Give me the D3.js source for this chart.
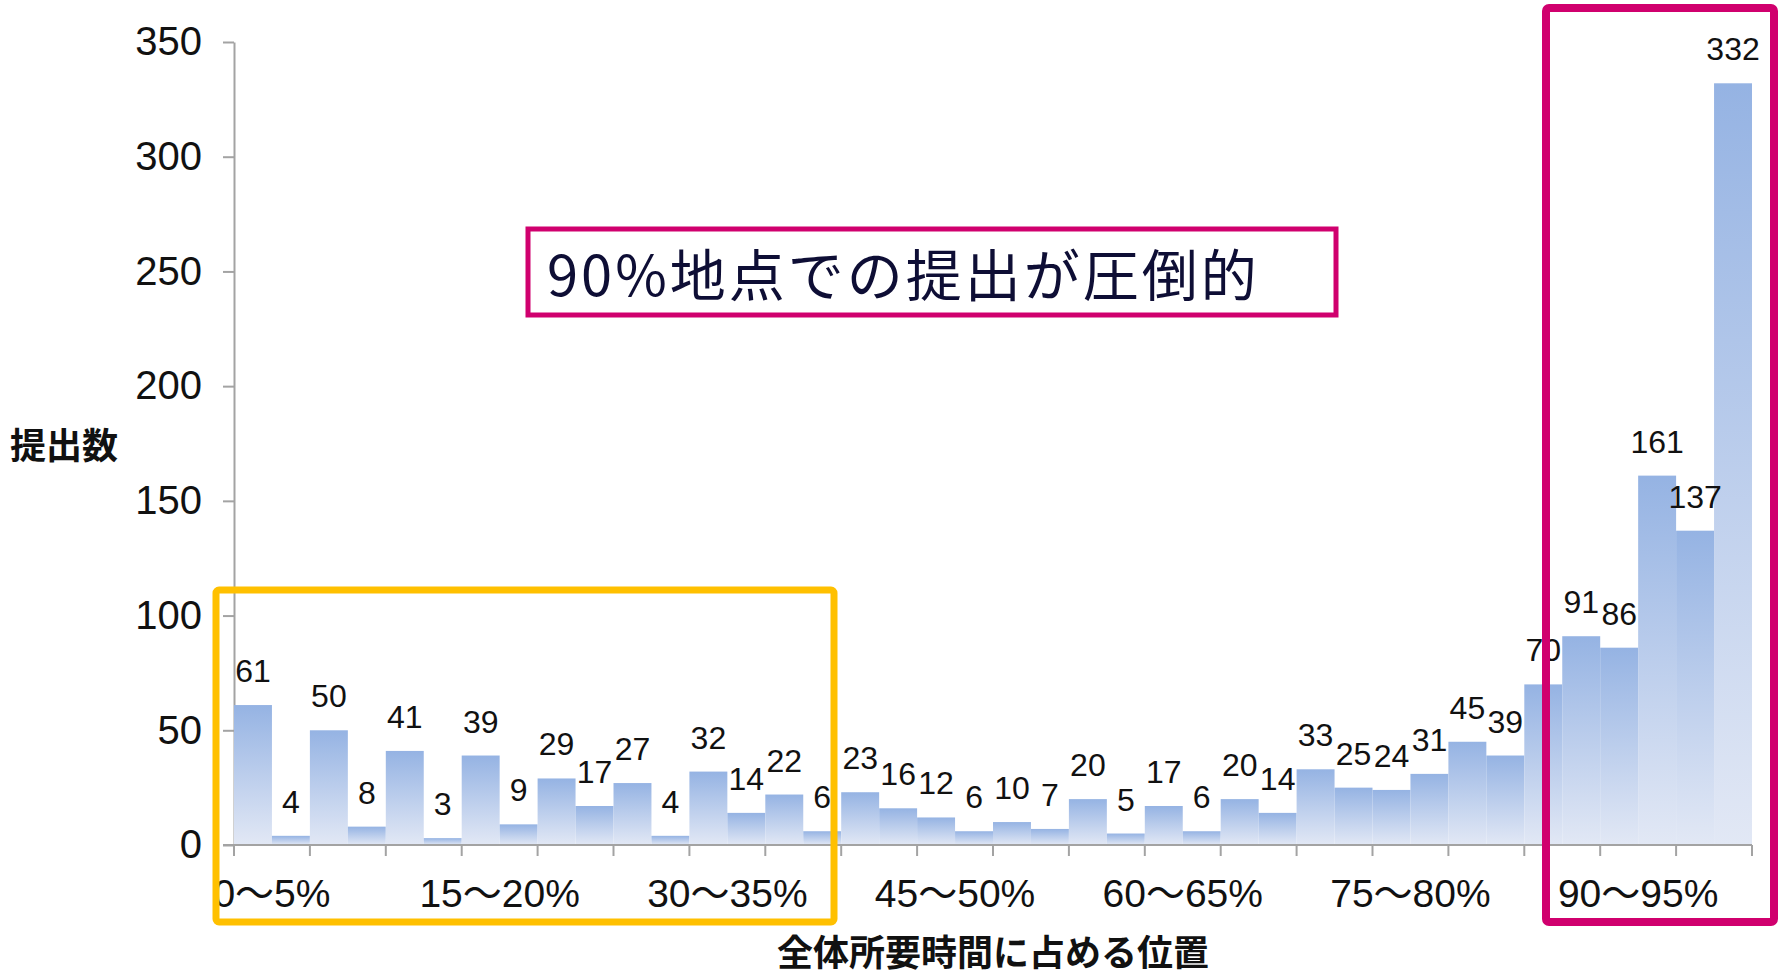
<!DOCTYPE html>
<meta charset="utf-8">
<style>
body { margin: 0; background: #fff; }
.axis path, .axis line { stroke: #a3a3a3; stroke-width: 2px; }
.axis text { font-family: "Liberation Sans", "Noto Sans CJK JP", sans-serif; fill: #111; }
.lbl { font-family: "Liberation Sans", sans-serif; font-size: 32px; fill: #111; }
.title { font-family: "Noto Sans CJK JP", sans-serif; font-weight: bold; font-size: 36px; fill: #111; }
</style>
<svg width="1779" height="972"></svg>
<script src="https://d3js.org/d3.v7.min.js"></script>
<script>

// 20 categories of 5%, two bars (series) per category
var categories = ["0～5%", "5～10%", "10～15%", "15～20%", "20～25%", "25～30%", "30～35%",
  "35～40%", "40～45%", "45～50%", "50～55%", "55～60%", "60～65%", "65～70%", "70～75%",
  "75～80%", "80～85%", "85～90%", "90～95%", "95～100%"];
var seriesA = [61, 50, 41, 39, 29, 27, 32, 22, 23, 12, 10, 20, 17, 20, 33, 24, 45, 70, 86, 137];
var seriesB = [4, 8, 3, 9, 17, 4, 14, 6, 16, 6, 7, 5, 6, 14, 25, 31, 39, 91, 161, 332];
var yTicks = [0, 50, 100, 150, 200, 250, 300, 350];
var yTitle = "提出数";
var xTitle = "全体所要時間に占める位置";
var note = "90%地点での提出が圧倒的";

var svg = d3.select("svg");
var plotL = 234, plotR = 1752, plotT = 42, plotB = 845;

var x = d3.scaleBand().domain(categories).range([plotL, plotR]).padding(0);
var xs = d3.scaleBand().domain(["a", "b"]).range([0, x.bandwidth()]).padding(0);
var y = d3.scaleLinear().domain([0, 350]).range([plotB, plotT]);

var grad = svg.append("defs").append("linearGradient")
    .attr("id", "barGrad")
    .attr("x1", 0).attr("y1", 0).attr("x2", 0).attr("y2", 1);
grad.append("stop").attr("offset", "0%").attr("stop-color", "#95b3e3");
grad.append("stop").attr("offset", "100%").attr("stop-color", "#e2e8f5");

var rows = [];
categories.forEach(function(c, i) {
  rows.push({cat: c, s: "a", v: seriesA[i]});
  rows.push({cat: c, s: "b", v: seriesB[i]});
});

// y axis
svg.append("g")
    .attr("class", "axis")
    .attr("transform", "translate(" + plotL + ",0)")
    .call(d3.axisLeft(y).tickValues(yTicks).tickSize(11).tickPadding(21).tickSizeOuter(0))
    .call(function(g) { g.selectAll("text").style("font-size", "40px"); });

// bars
svg.append("g").selectAll("rect")
    .data(rows)
    .enter().append("rect")
    .attr("x", function(d) { return x(d.cat) + xs(d.s); })
    .attr("y", function(d) { return y(d.v); })
    .attr("width", xs.bandwidth())
    .attr("height", function(d) { return plotB - y(d.v); })
    .attr("fill", "url(#barGrad)");

// x axis: labels every 3 categories, ticks on category boundaries
var xg = svg.append("g")
    .attr("class", "axis")
    .attr("transform", "translate(0," + plotB + ")")
    .call(d3.axisBottom(x)
      .tickValues(categories.filter(function(d, i) { return i % 3 === 0; }))
      .tickSize(0).tickPadding(34).tickSizeOuter(0));
xg.selectAll("text").style("font-size", "39px");
xg.select(".domain").attr("d", "M" + (plotL - 11) + ",0H" + plotR);
xg.selectAll(".bound")
    .data(categories.map(function(c) { return x(c); }).concat([plotR]))
    .enter().append("line")
    .attr("class", "bound")
    .attr("x1", function(d) { return d; }).attr("x2", function(d) { return d; })
    .attr("y1", 0).attr("y2", 11);

// value labels
svg.append("g").selectAll("text")
    .data(rows)
    .enter().append("text")
    .attr("class", "lbl")
    .attr("text-anchor", "middle")
    .attr("x", function(d) { return x(d.cat) + xs(d.s) + xs.bandwidth() / 2; })
    .attr("y", function(d) { return y(d.v) - 23; })
    .text(function(d) { return d.v; });

// axis titles
svg.append("text").attr("class", "title")
    .attr("x", 64).attr("y", 443)
    .attr("text-anchor", "middle").attr("dominant-baseline", "central")
    .text(yTitle);
svg.append("text").attr("class", "title")
    .attr("x", (plotL + plotR) / 2).attr("y", 950)
    .attr("text-anchor", "middle").attr("dominant-baseline", "central")
    .text(xTitle);

// highlight boxes
svg.append("rect")
    .attr("x", 216).attr("y", 590).attr("width", 618).attr("height", 332)
    .attr("rx", 3)
    .attr("fill", "none").attr("stroke", "#ffc000").attr("stroke-width", 7);
svg.append("rect")
    .attr("x", 1546).attr("y", 8).attr("width", 228).attr("height", 914)
    .attr("rx", 3)
    .attr("fill", "none").attr("stroke", "#d0006e").attr("stroke-width", 8);

// note box
svg.append("rect")
    .attr("x", 528).attr("y", 229).attr("width", 808).attr("height", 86)
    .attr("fill", "#fff").attr("stroke", "#d0006e").attr("stroke-width", 5);
svg.append("text")
    .attr("x", 547).attr("y", 296)
    .style("font-family", "'Noto Sans CJK JP', sans-serif")
    .style("font-size", "56px")
    .style("letter-spacing", "3px")
    .attr("fill", "#0e0e35")
    .text(note);

</script>
